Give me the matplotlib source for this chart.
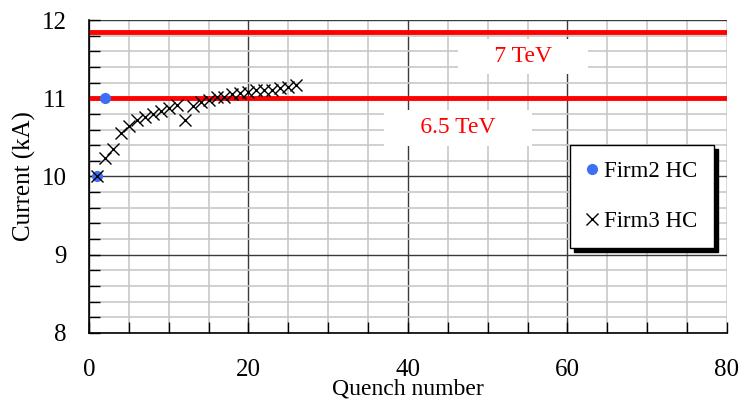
import numpy as np
import matplotlib.pyplot as plt
from matplotlib.ticker import MultipleLocator

plt.rcParams['font.family'] = ['Liberation Serif', 'DejaVu Serif']

# Firm2 HC
firm2_x = [1, 2]
firm2_y = [10.0, 11.0]

# Firm3 HC
firm3_x = [1, 2, 3, 4, 5, 6, 7, 8, 9, 10, 11, 12, 13, 14, 15, 16, 17, 18, 19,
           20, 21, 22, 23, 24, 25, 26]
firm3_y = [10.0, 10.23, 10.35, 10.55, 10.65, 10.72, 10.76, 10.8, 10.84, 10.88,
           10.91, 10.72, 10.9, 10.95, 10.98, 11.01, 11.02, 11.05, 11.07, 11.08,
           11.1, 11.1, 11.11, 11.13, 11.15, 11.17]

levels = [11.85, 11.0]
level_labels = ['7 TeV', '6.5 TeV']
label_x = [54.4, 46.3]
label_y = [11.53, 10.62]

fig = plt.figure(figsize=(7.41, 4.01), dpi=100)
ax = fig.add_axes([0.120, 0.170, 0.861, 0.780])

ax.set_xlim(0, 80)
ax.set_ylim(8, 12)
ax.xaxis.set_major_locator(MultipleLocator(20))
ax.xaxis.set_minor_locator(MultipleLocator(5))
ax.yaxis.set_major_locator(MultipleLocator(1))
ax.yaxis.set_minor_locator(MultipleLocator(0.2))
ax.grid(which='minor', color='#c8c8c8', lw=1.2, zorder=0)
ax.grid(which='major', color='#3a3a3a', lw=1.0, zorder=0)
ax.set_axisbelow(True)
ax.tick_params(which='both', direction='in', length=8, width=1, colors='black',
               labelsize=18)
ax.tick_params(axis='x', which='major', pad=19)
ax.tick_params(axis='y', which='major', pad=16)
for s in ['top', 'right']:
    ax.spines[s].set_visible(False)
for s in ['left', 'bottom']:
    ax.spines[s].set_linewidth(1.2)

for lv in levels:
    ax.axhline(lv, color='#ff0000', lw=3.5, zorder=2)
for t, x, y in zip(level_labels, label_x, label_y):
    ax.text(x, y, '     ' + t + '     ', color='#ff0000', fontsize=17,
            ha='center', va='center', zorder=3,
            bbox=dict(facecolor='white', edgecolor='none',
                      boxstyle='square,pad=0.3'))

ax.plot(firm2_x, firm2_y, 'o', color='#3d6ff5', ms=7, ls='none',
        label='Firm2 HC', zorder=4)
ax.plot(firm3_x, firm3_y, 'x', color='black', ms=8, mew=1.0, ls='none',
        label='Firm3 HC', zorder=5)

ax.set_xlabel('Quench number', fontsize=17, labelpad=-2)
ax.set_ylabel('Current (kA)', fontsize=18, labelpad=4)

leg = ax.legend(loc='upper left', bbox_to_anchor=(0.754, 0.60), fontsize=16.5,
                frameon=True, fancybox=False, edgecolor='black',
                labelspacing=1.25, handlelength=0.5, handletextpad=0.3,
                borderpad=0.7, borderaxespad=0,
                shadow={'color': 'black', 'alpha': 1, 'ox': 3, 'oy': -3})
leg.get_frame().set_linewidth(1.0)
leg.get_frame().set_alpha(1)
leg.set_zorder(6)

fig.savefig('out.png', dpi=100)
